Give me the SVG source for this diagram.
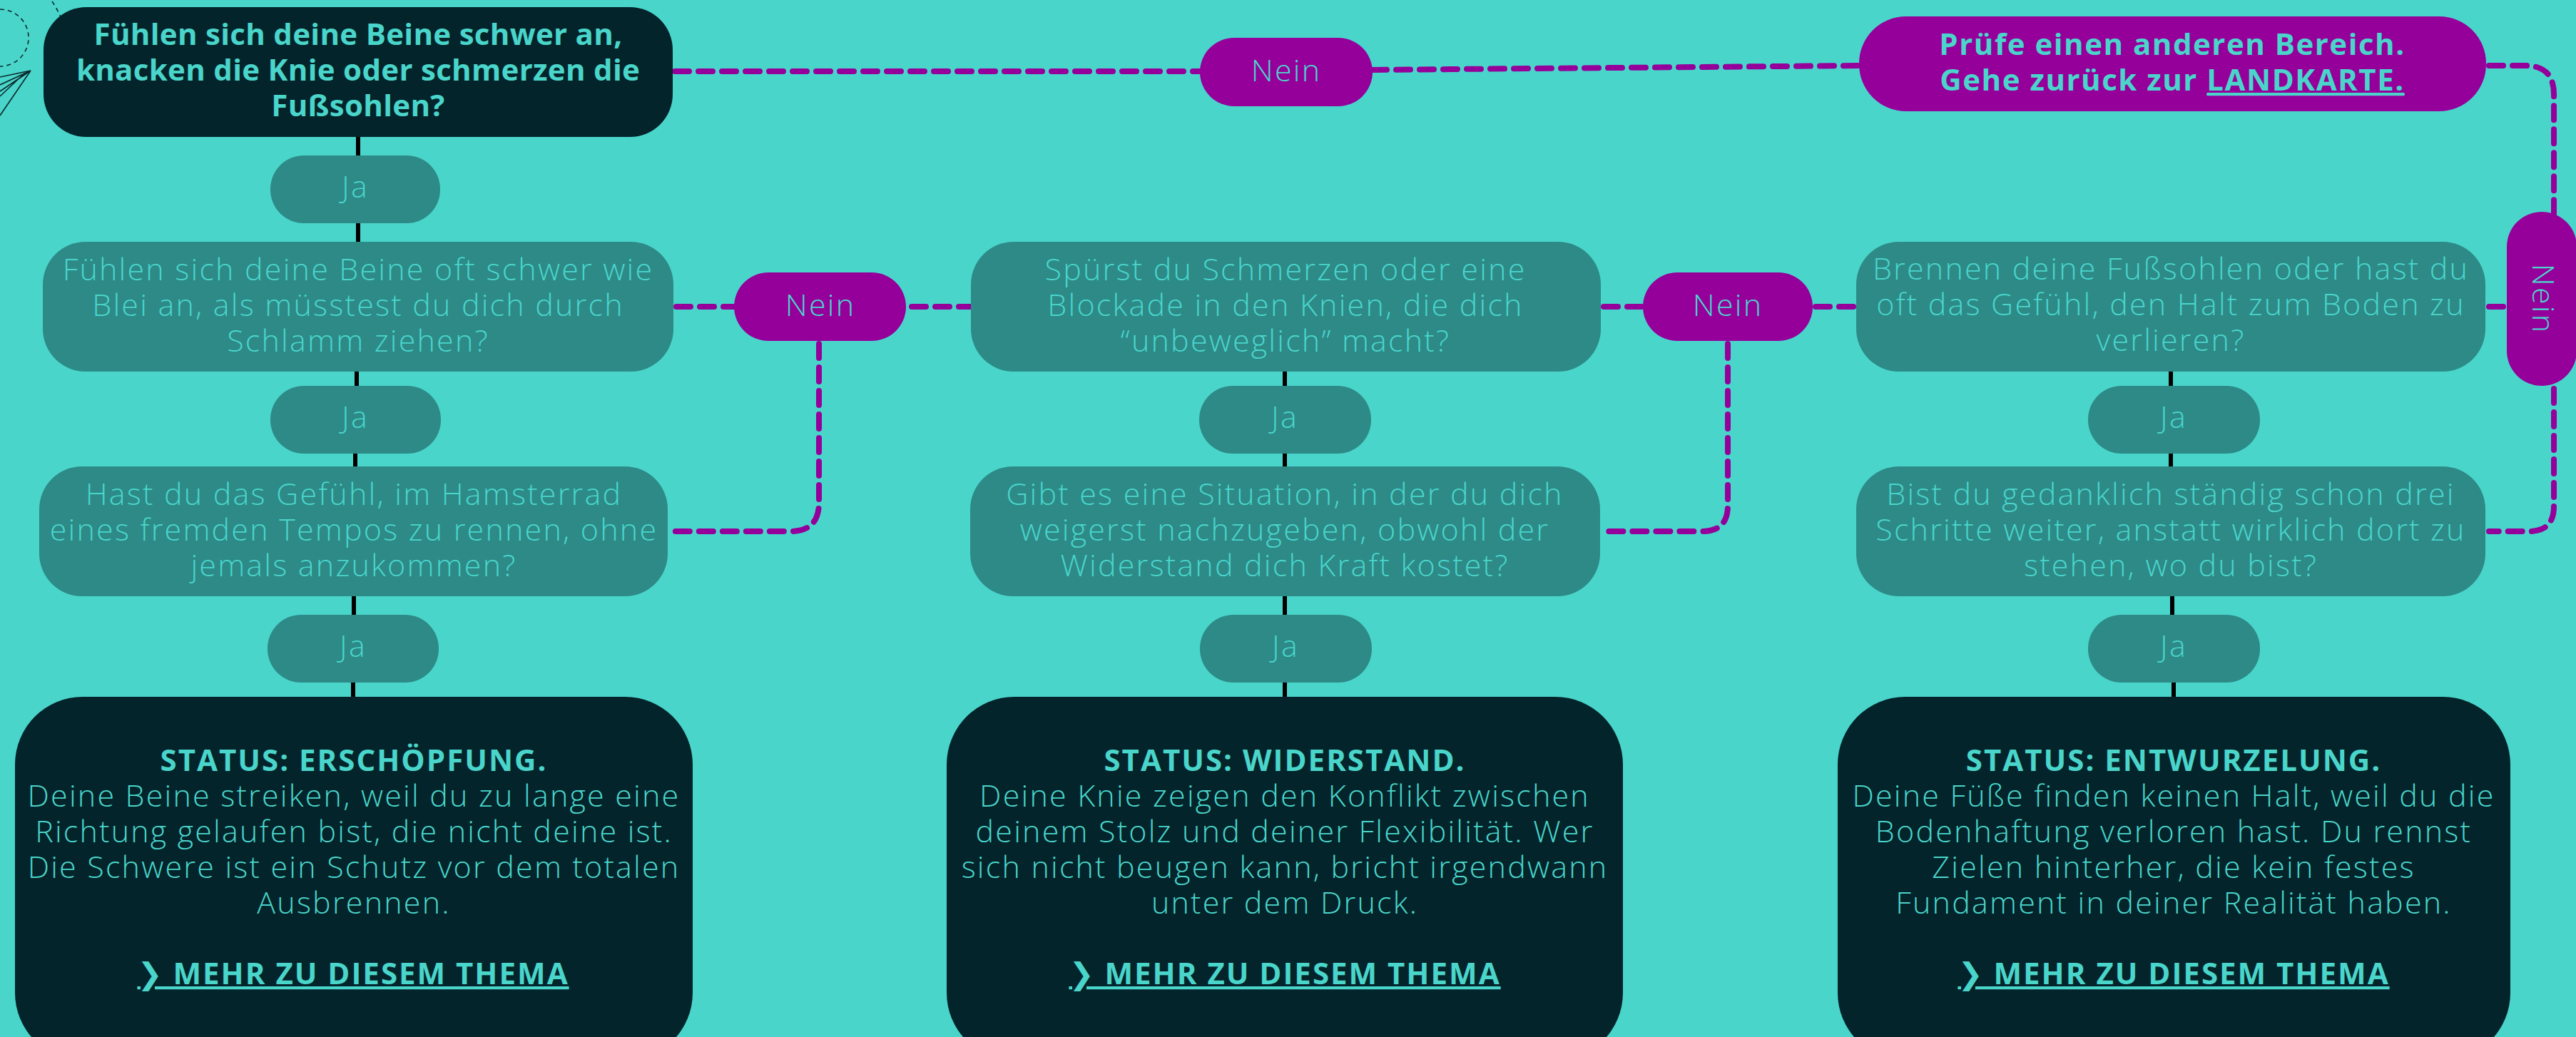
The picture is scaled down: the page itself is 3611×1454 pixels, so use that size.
<svg xmlns="http://www.w3.org/2000/svg" width="3611" height="1454" viewBox="0 0 3611 1454">
  <style>
    .bg { fill: #4ad5cb; }
    .dark { fill: #03242a; }
    .q { fill: #2d8a87; }
    .mag { fill: #95009a; }
    .t { font-family: "Open Sans", "Noto Sans", "DejaVu Sans", sans-serif; font-size: 43px; font-weight: 300; letter-spacing: 2.2px; fill: #4ad5cb; text-anchor: middle; }
    .b { font-size: 42px; font-weight: 700; letter-spacing: 0.3px; }
    .wide { letter-spacing: 1.5px; }
    .caps { letter-spacing: 2px; }
    .u { text-decoration: underline; }
    .yes { stroke: #000; stroke-width: 6; stroke-linecap: round; fill: none; }
    .no { stroke: #95009a; stroke-width: 8; stroke-linecap: round; stroke-dasharray: 20 13; fill: none; }
    .deco { stroke: #0b2a2c; stroke-width: 1.6; fill: none; }
  </style>

  <rect class="bg" x="0" y="0" width="3611" height="1454"/>

  <!-- corner ornaments -->
  <g id="ornaments">
    <path class="deco" stroke-dasharray="6 5" d="M 0 13 A 40 40 0 0 1 0 93"/>
    <path class="deco" stroke-dasharray="6 5" d="M 73 2 Q 80 12 86 26"/>
    <path class="deco" d="M 43 99 L 0 108 M 43 99 L 0 119 M 43 99 L 0 128 M 43 99 L 0 162 M 34 103 L 0 135"/>
  </g>

  <!-- connectors -->
  <g id="connectors">
    <!-- yes branches -->
    <line class="yes" x1="502" y1="190" x2="502" y2="220"/>
    <line class="yes" x1="502" y1="311" x2="502" y2="341"/>
    <line class="yes" x1="500" y1="519" x2="500" y2="543"/>
    <line class="yes" x1="498" y1="634" x2="498" y2="656"/>
    <line class="yes" x1="496" y1="834" x2="496" y2="864"/>
    <line class="yes" x1="495" y1="955" x2="495" y2="979"/>

    <line class="yes" x1="1801" y1="519" x2="1801" y2="543"/>
    <line class="yes" x1="1801" y1="634" x2="1801" y2="656"/>
    <line class="yes" x1="1801" y1="834" x2="1801" y2="864"/>
    <line class="yes" x1="1801" y1="955" x2="1801" y2="979"/>

    <line class="yes" x1="3043" y1="519" x2="3043" y2="543"/>
    <line class="yes" x1="3043" y1="634" x2="3043" y2="656"/>
    <line class="yes" x1="3045" y1="834" x2="3045" y2="864"/>
    <line class="yes" x1="3047" y1="955" x2="3047" y2="979"/>

    <!-- no branches -->
    <path class="no" d="M 946 100 L 1682 100"/>
    <path class="no" d="M 1924 98 L 2606 92"/>
    <path class="no" d="M 3489 92 L 3540 92 Q 3580 92 3580 132 L 3580 300"/>
    <path class="no" d="M 3580 545 L 3580 710 Q 3580 745 3545 745 L 3489 745"/>
    <path class="no" d="M 3489 430 L 3514 430"/>

    <path class="no" d="M 948 430 L 1361 430"/>
    <path class="no" d="M 1148 482 L 1148 705 Q 1148 745 1108 745 L 940 745"/>

    <path class="no" d="M 2248 430 L 2602 430"/>
    <path class="no" d="M 2422 482 L 2422 709 Q 2422 745 2386 745 L 2247 745"/>
  </g>

  <!-- start question -->
  <g id="start">
    <rect class="dark" x="61" y="10" width="882" height="182" rx="60"/>
    <text class="t b" x="502" y="63">Fühlen sich deine Beine schwer an,</text>
    <text class="t b" x="502" y="113">knacken die Knie oder schmerzen die</text>
    <text class="t b" x="502" y="163">Fußsohlen?</text>
  </g>

  <g id="no-top">
    <rect class="mag" x="1682" y="53" width="242" height="96" rx="48"/>
    <text class="t" x="1803" y="114">Nein</text>
  </g>

  <g id="other-area">
    <rect class="mag" x="2606" y="23" width="879" height="133" rx="66"/>
    <text class="t b wide" x="3045" y="77">Prüfe einen anderen Bereich.</text>
    <text class="t b wide" x="3045" y="127">Gehe zurück zur <tspan class="u">LANDKARTE.</tspan></text>
  </g>

  <!-- left column -->
  <g id="ja-1">
    <rect class="q" x="379" y="218" width="238" height="95" rx="47"/>
    <text class="t" x="498" y="277">Ja</text>
  </g>

  <g id="q-lead">
    <rect class="q" x="60" y="339" width="884" height="182" rx="60"/>
    <text class="t" x="502" y="393">Fühlen sich deine Beine oft schwer wie</text>
    <text class="t" x="502" y="443">Blei an, als müsstest du dich durch</text>
    <text class="t" x="502" y="493">Schlamm ziehen?</text>
  </g>

  <g id="no-left">
    <rect class="mag" x="1029" y="382" width="241" height="96" rx="48"/>
    <text class="t" x="1150" y="443">Nein</text>
  </g>

  <g id="ja-2">
    <rect class="q" x="379" y="541" width="239" height="95" rx="47"/>
    <text class="t" x="498" y="600">Ja</text>
  </g>

  <g id="q-hamster">
    <rect class="q" x="55" y="654" width="881" height="182" rx="60"/>
    <text class="t" x="496" y="708">Hast du das Gefühl, im Hamsterrad</text>
    <text class="t" x="496" y="758">eines fremden Tempos zu rennen, ohne</text>
    <text class="t" x="496" y="808">jemals anzukommen?</text>
  </g>

  <g id="ja-3">
    <rect class="q" x="375" y="862" width="240" height="95" rx="47"/>
    <text class="t" x="495" y="921">Ja</text>
  </g>

  <g id="status-exhaustion">
    <rect class="dark" x="21" y="977" width="950" height="510" rx="95"/>
    <text class="t b caps" x="496" y="1081">STATUS: ERSCHÖPFUNG.</text>
    <text class="t" x="496" y="1131">Deine Beine streiken, weil du zu lange eine</text>
    <text class="t" x="496" y="1181">Richtung gelaufen bist, die nicht deine ist.</text>
    <text class="t" x="496" y="1231">Die Schwere ist ein Schutz vor dem totalen</text>
    <text class="t" x="496" y="1281">Ausbrennen.</text>
    <text class="t b caps u" x="495" y="1380">❯ MEHR ZU DIESEM THEMA</text>
  </g>

  <!-- middle column -->
  <g id="q-knees">
    <rect class="q" x="1361" y="339" width="883" height="182" rx="60"/>
    <text class="t" x="1802" y="393">Spürst du Schmerzen oder eine</text>
    <text class="t" x="1802" y="443">Blockade in den Knien, die dich</text>
    <text class="t" x="1802" y="493">“unbeweglich” macht?</text>
  </g>

  <g id="no-middle">
    <rect class="mag" x="2303" y="382" width="238" height="96" rx="48"/>
    <text class="t" x="2422" y="443">Nein</text>
  </g>

  <g id="ja-4">
    <rect class="q" x="1681" y="541" width="241" height="95" rx="47"/>
    <text class="t" x="1801" y="600">Ja</text>
  </g>

  <g id="q-resist">
    <rect class="q" x="1360" y="654" width="883" height="182" rx="60"/>
    <text class="t" x="1801" y="708">Gibt es eine Situation, in der du dich</text>
    <text class="t" x="1801" y="758">weigerst nachzugeben, obwohl der</text>
    <text class="t" x="1801" y="808">Widerstand dich Kraft kostet?</text>
  </g>

  <g id="ja-5">
    <rect class="q" x="1682" y="862" width="241" height="95" rx="47"/>
    <text class="t" x="1802" y="921">Ja</text>
  </g>

  <g id="status-resistance">
    <rect class="dark" x="1327" y="977" width="948" height="510" rx="95"/>
    <text class="t b caps" x="1801" y="1081">STATUS: WIDERSTAND.</text>
    <text class="t" x="1801" y="1131">Deine Knie zeigen den Konflikt zwischen</text>
    <text class="t" x="1801" y="1181">deinem Stolz und deiner Flexibilität. Wer</text>
    <text class="t" x="1801" y="1231">sich nicht beugen kann, bricht irgendwann</text>
    <text class="t" x="1801" y="1281">unter dem Druck.</text>
    <text class="t b caps u" x="1801" y="1380">❯ MEHR ZU DIESEM THEMA</text>
  </g>

  <!-- right column -->
  <g id="q-soles">
    <rect class="q" x="2602" y="339" width="882" height="182" rx="60"/>
    <text class="t" x="3043" y="392">Brennen deine Fußsohlen oder hast du</text>
    <text class="t" x="3043" y="442">oft das Gefühl, den Halt zum Boden zu</text>
    <text class="t" x="3043" y="492">verlieren?</text>
  </g>

  <g id="no-right">
    <rect class="mag" x="3514" y="297" width="98" height="244" rx="49"/>
    <text class="t" transform="translate(3550 419) rotate(90)" x="0" y="0">Nein</text>
  </g>

  <g id="ja-6">
    <rect class="q" x="2927" y="541" width="241" height="95" rx="47"/>
    <text class="t" x="3047" y="600">Ja</text>
  </g>

  <g id="q-ahead">
    <rect class="q" x="2602" y="654" width="882" height="182" rx="60"/>
    <text class="t" x="3043" y="708">Bist du gedanklich ständig schon drei</text>
    <text class="t" x="3043" y="758">Schritte weiter, anstatt wirklich dort zu</text>
    <text class="t" x="3043" y="808">stehen, wo du bist?</text>
  </g>

  <g id="ja-7">
    <rect class="q" x="2927" y="862" width="241" height="95" rx="47"/>
    <text class="t" x="3047" y="921">Ja</text>
  </g>

  <g id="status-uprooting">
    <rect class="dark" x="2576" y="977" width="943" height="510" rx="95"/>
    <text class="t b caps" x="3047" y="1081">STATUS: ENTWURZELUNG.</text>
    <text class="t" x="3047" y="1131">Deine Füße finden keinen Halt, weil du die</text>
    <text class="t" x="3047" y="1181">Bodenhaftung verloren hast. Du rennst</text>
    <text class="t" x="3047" y="1231">Zielen hinterher, die kein festes</text>
    <text class="t" x="3047" y="1281">Fundament in deiner Realität haben.</text>
    <text class="t b caps u" x="3047" y="1380">❯ MEHR ZU DIESEM THEMA</text>
  </g>
</svg>
